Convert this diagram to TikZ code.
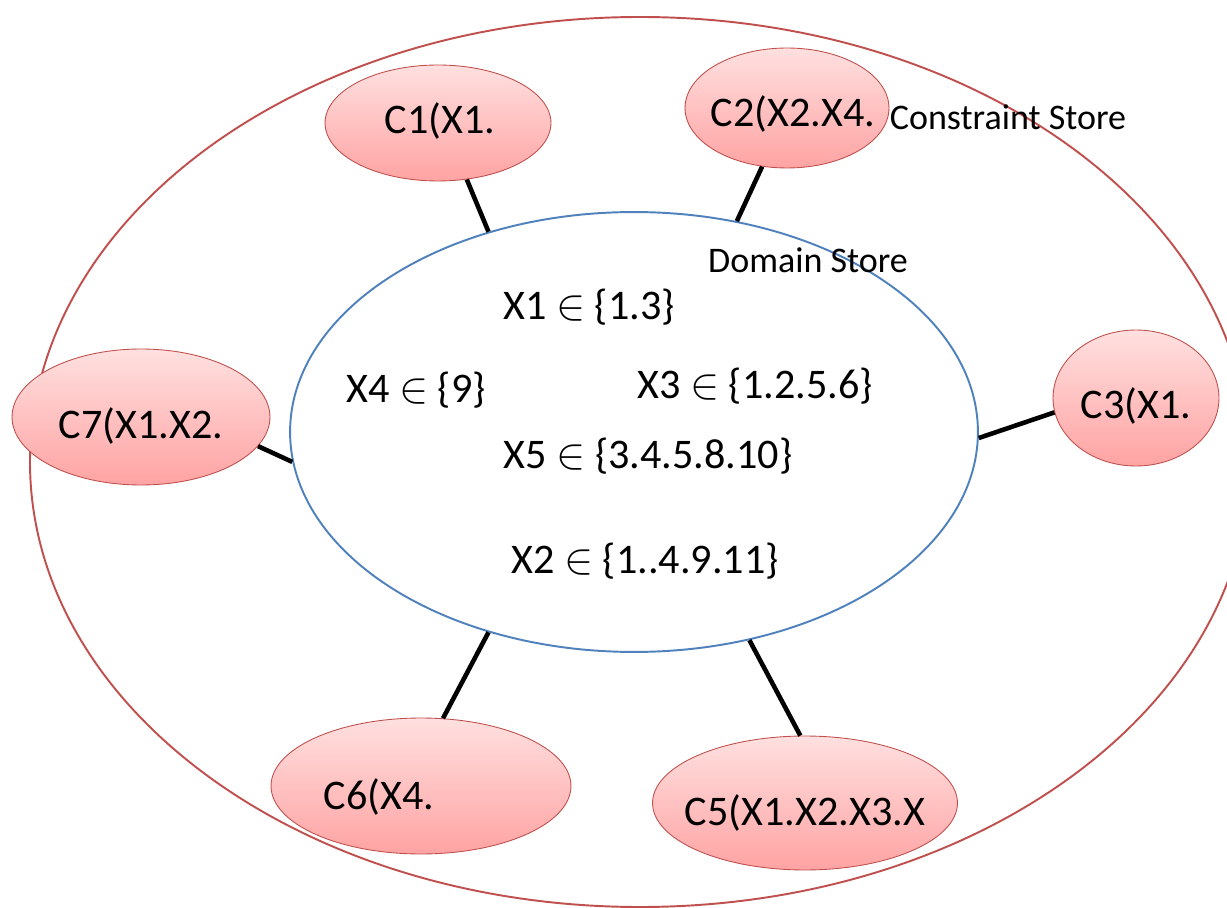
\documentclass[tikz,border=0pt]{standalone}
\usepackage{fontspec}
\setmainfont{Carlito}
\usetikzlibrary{shapes.geometric}
\definecolor{redline}{HTML}{C0504D}
\definecolor{blueline}{HTML}{4F81BD}
\definecolor{pinktop}{RGB}{255,224,224}
\definecolor{pinkbot}{RGB}{255,163,163}
\begin{document}
\begin{tikzpicture}[x=0.02cm,y=-0.02cm]
	\tikzstyle{every node}+=[inner sep=0pt]
	\tikzstyle{cons}=[ellipse,draw=redline,line width=0.5pt,top color=pinktop,bottom color=pinkbot]
	\tikzstyle{lbl}=[anchor=base,font=\fontsize{24}{28}\selectfont]
	\tikzstyle{store}=[anchor=base,font=\fontsize{20.5}{24}\selectfont]
	\tikzstyle{link}=[black,line width=2.6pt]
	\useasboundingbox (0,0) rectangle (1227,908);
	\clip (0,0) rectangle (1227,908);
	% constraint store
	\draw[redline,line width=1.1pt] (640,462) ellipse [x radius=610, y radius=445];
	\node[store] (cstore) at (1008,130) {Constraint Store};
	% domain store
	\node[ellipse,draw=blueline,line width=1.1pt,fill=white,minimum width=13.76cm,minimum height=8.8cm] (ds) at (634,432) {};
	\node[store] (dstore) at (808,273) {Domain Store};
	\node[lbl] (x1) at (589,320) {X1 $\in$ \{1.3\}};
	\node[lbl] (x4) at (416,403) {X4 $\in$ \{9\}};
	\node[lbl] (x3) at (755,399) {X3 $\in$ \{1.2.5.6\}};
	\node[lbl] (x5) at (648,469) {X5 $\in$ \{3.4.5.8.10\}};
	\node[lbl] (x2) at (645,573) {X2 $\in$ \{1..4.9.11\}};
	% constraints
	\node[cons,minimum width=4.52cm,minimum height=2.32cm] (c1) at (438,123) {};
	\node[cons,minimum width=4.08cm,minimum height=2.4cm] (c2) at (787,108) {};
	\node[cons,minimum width=3.32cm,minimum height=2.72cm] (c3) at (1136,398) {};
	\node[cons,minimum width=6.1cm,minimum height=2.68cm] (c5) at (805,803) {};
	\node[cons,minimum width=6.0cm,minimum height=2.72cm] (c6) at (421,786) {};
	\node[cons,minimum width=5.16cm,minimum height=2.72cm] (c7) at (141,417) {};
	\node[lbl] (t1) at (440,134) {C1(X1.};
	\node[lbl] (t2) at (793,127) {C2(X2.X4.};
	\node[lbl] (t3) at (1136,419) {C3(X1.};
	\node[lbl] (t5) at (805,825) {C5(X1.X2.X3.X};
	\node[lbl] (t6) at (379,809) {C6(X4.};
	\node[lbl] (t7) at (141,439) {C7(X1.X2.};
	% links
	\draw[link] (c1.-63) -- (ds.126);
	\draw[link] (c2.-113) -- (ds.64);
	\draw[link] (c3.190) -- (ds.-1);
	\draw[link] (c5.94) -- (ds.-61);
	\draw[link] (c6.72) -- (ds.-126);
	\draw[link] (c7.-14) -- (ds.185);
\end{tikzpicture}
\end{document}
